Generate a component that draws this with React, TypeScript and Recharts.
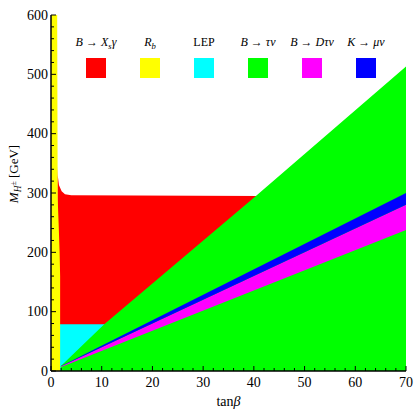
import React from 'react';
import { ComposedChart, Area, XAxis, YAxis, Legend } from 'recharts';

// ---------- data ----------
const X_TICKS = [0, 2, 4, 6, 8, 10, 12, 14, 16, 18, 20, 22, 24, 26, 28, 30, 32, 34, 36, 38, 40, 42, 44, 46, 48, 50, 52, 54, 56, 58, 60, 62, 64, 66, 68, 70];
const X_LABELED = [0, 10, 20, 30, 40, 50, 60, 70];
const Y_TICKS = [0, 20, 40, 60, 80, 100, 120, 140, 160, 180, 200, 220, 240, 260, 280, 300, 320, 340, 360, 380, 400, 420, 440, 460, 480, 500, 520, 540, 560, 580, 600];
const Y_LABELED = [0, 100, 200, 300, 400, 500, 600];

// B -> X_s gamma (red): excluded below ~295 GeV
const bsgamma = [
  { x: 1.25, r: [0, 345] },
  { x: 1.32, r: [0, 330] },
  { x: 1.58, r: [0, 313] },
  { x: 2.1, r: [0, 303] },
  { x: 2.76, r: [0, 298] },
  { x: 4, r: [0, 296] },
  { x: 41, r: [0, 295] },
];
// R_b (yellow): small tan beta
const rb = [
  { x: 0, r: [0, 600] },
  { x: 1.22, r: [0, 600] },
  { x: 1.32, r: [0, 290] },
  { x: 1.5, r: [0, 250] },
  { x: 1.7, r: [0, 200] },
  { x: 1.8, r: [0, 160] },
  { x: 1.8, r: [0, 0] },
];
// LEP (cyan)
const lep = [
  { x: 1.5, r: [0, 79] },
  { x: 11, r: [0, 79] },
];
// B -> tau nu (green)
const btaunu = [
  { x: 1.9, r: [0, 8] },
  { x: 10.5, r: [0, 79] },
  { x: 40.4, r: [0, 295] },
  { x: 70, r: [0, 513] },
];
// B -> D tau nu (magenta)
const bdtaunu = [
  { x: 2, r: [6.8, 8.0] },
  { x: 70, r: [237.6, 280] },
];
// K -> mu nu (blue)
const kmunu = [
  { x: 2, r: [8.0, 8.6] },
  { x: 70, r: [280, 300] },
];

type Seg = { t: string; i?: boolean; sub?: boolean };
const LEGEND_ITEMS: { color: string; label: Seg[] }[] = [
  { color: '#FF0000', label: [{ t: 'B', i: true }, { t: ' \u2192 ' }, { t: 'X', i: true }, { t: 's', i: true, sub: true }, { t: '\u03B3', i: true }] },
  { color: '#FFFF00', label: [{ t: 'R', i: true }, { t: 'b', i: true, sub: true }] },
  { color: '#00FFFF', label: [{ t: 'LEP' }] },
  { color: '#00FF00', label: [{ t: 'B', i: true }, { t: ' \u2192 ' }, { t: '\u03C4\u03BD', i: true }] },
  { color: '#FF00FF', label: [{ t: 'B', i: true }, { t: ' \u2192 ' }, { t: 'D\u03C4\u03BD', i: true }] },
  { color: '#0000FF', label: [{ t: 'K', i: true }, { t: ' \u2192 ' }, { t: '\u03BC\u03BD', i: true }] },
];

const FONT = "'Times New Roman', 'Liberation Serif', Tinos, Times, serif";
const MAJOR = 5;
const MINOR = 3;
const FRAME = 1.5;

const renderSegs = (segs: Seg[]) => {
  const out: React.ReactNode[] = [];
  let shifted = false;
  segs.forEach((s, k) => {
    let dy = 0;
    if (s.sub && !shifted) { dy = 3; shifted = true; }
    else if (!s.sub && shifted) { dy = -3; shifted = false; }
    out.push(
      <tspan key={k} dy={dy || undefined} fontStyle={s.i ? 'italic' : 'normal'} fontSize={s.sub ? '0.72em' : undefined}>
        {s.t}
      </tspan>
    );
  });
  return out;
};

const BottomTick = (p: any) => {
  const major = X_LABELED.includes(p.payload.value);
  return (
    <g>
      <line x1={p.x} x2={p.x} y1={p.y} y2={p.y - (major ? MAJOR : MINOR)} stroke="#000" strokeWidth={1} />
      {major && (
        <text x={p.x} y={p.y + 16} textAnchor="middle" style={{ fontFamily: FONT }} fontSize={14} fill="#000">
          {p.payload.value}
        </text>
      )}
    </g>
  );
};
const TopTick = (p: any) => {
  const major = X_LABELED.includes(p.payload.value);
  return <line x1={p.x} x2={p.x} y1={p.y} y2={p.y + (major ? MAJOR : MINOR)} stroke="#000" strokeWidth={1} />;
};
const LeftTick = (p: any) => {
  const major = Y_LABELED.includes(p.payload.value);
  return (
    <g>
      <line x1={p.x} x2={p.x + (major ? MAJOR : MINOR)} y1={p.y} y2={p.y} stroke="#000" strokeWidth={1} />
      {major && (
        <text x={p.x - 3} y={p.y + 4.5} textAnchor="end" style={{ fontFamily: FONT }} fontSize={14} fill="#000">
          {p.payload.value}
        </text>
      )}
    </g>
  );
};
const RightTick = (p: any) => {
  const major = Y_LABELED.includes(p.payload.value);
  return <line x1={p.x} x2={p.x - (major ? MAJOR : MINOR)} y1={p.y} y2={p.y} stroke="#000" strokeWidth={1} />;
};

const LegendContent = () => (
  <svg width={415} height={100} style={{ display: 'block', overflow: 'visible' }}>
    {LEGEND_ITEMS.map((it, k) => {
      const cx = 96 + k * 54;
      return (
        <g key={k}>
          <text x={cx} y={46} textAnchor="middle" style={{ fontFamily: FONT }} fontSize={12} fill="#000">
            {renderSegs(it.label)}
          </text>
          <rect x={cx - 10} y={58} width={20} height={20} fill={it.color} />
        </g>
      );
    })}
  </svg>
);

const XTitle = (props: any) => {
  const vb = props.viewBox || { x: 51, y: 371, width: 355, height: 20 };
  return (
    <text x={vb.x + vb.width / 2} y={vb.y + 35} textAnchor="middle" style={{ fontFamily: FONT }} fontSize={14} fill="#000">
      <tspan>tan</tspan>
      <tspan fontStyle="italic">{'\u03B2'}</tspan>
    </text>
  );
};
const YTitle = (props: any) => {
  const vb = props.viewBox || { x: 11, y: 15, width: 40, height: 356 };
  const x = vb.x + 7;
  const y = vb.y + vb.height / 2 - 19;
  return (
    <text transform={`translate(${x},${y}) rotate(-90)`} textAnchor="middle" style={{ fontFamily: FONT }} fontSize={13} fill="#000">
      <tspan fontStyle="italic">M</tspan>
      <tspan fontStyle="italic" fontSize="0.72em" dy={3}>H</tspan>
      <tspan fontSize="0.6em" dy={-5}>{'\u00B1'}</tspan>
      <tspan dy={2}>{' [GeV]'}</tspan>
    </text>
  );
};

export default function App() {
  return (
    <div style={{ position: 'absolute', left: 0, top: 0, width: 415, height: 415, background: '#fff', fontFamily: FONT }}>
      <ComposedChart width={415} height={415} margin={{ top: 15, right: 9, bottom: 24, left: 11 }}>
        <XAxis
          type="number"
          dataKey="x"
          domain={[0, 70]}
          allowDataOverflow
          ticks={X_TICKS}
          interval={0}
          height={20}
          tickSize={0}
          tickMargin={0}
          tickLine={false}
          axisLine={{ stroke: '#000', strokeWidth: FRAME }}
          tick={(p: any) => <BottomTick {...p} />}
          label={(p: any) => <XTitle {...p} />}
        />
        <XAxis
          xAxisId="top"
          orientation="top"
          type="number"
          dataKey="x"
          domain={[0, 70]}
          allowDataOverflow
          ticks={X_TICKS}
          interval={0}
          height={0}
          tickSize={0}
          tickMargin={0}
          tickLine={false}
          axisLine={{ stroke: '#000', strokeWidth: FRAME }}
          tick={(p: any) => <TopTick {...p} />}
        />
        <YAxis
          type="number"
          domain={[0, 600]}
          allowDataOverflow
          ticks={Y_TICKS}
          interval={0}
          width={40}
          tickSize={0}
          tickMargin={0}
          tickLine={false}
          axisLine={{ stroke: '#000', strokeWidth: FRAME }}
          tick={(p: any) => <LeftTick {...p} />}
          label={(p: any) => <YTitle {...p} />}
        />
        <YAxis
          yAxisId="right"
          orientation="right"
          type="number"
          domain={[0, 600]}
          allowDataOverflow
          ticks={Y_TICKS}
          interval={0}
          width={0}
          tickSize={0}
          tickMargin={0}
          tickLine={false}
          axisLine={{ stroke: '#000', strokeWidth: FRAME }}
          tick={(p: any) => <RightTick {...p} />}
        />
        <Area data={bsgamma} dataKey="r" type="linear" fill="#FF0000" fillOpacity={1} stroke="none" isAnimationActive={false} name="B→Xsγ" />
        <Area data={lep} dataKey="r" type="linear" fill="#00FFFF" fillOpacity={1} stroke="none" isAnimationActive={false} name="LEP" />
        <Area data={btaunu} dataKey="r" type="linear" fill="#00FF00" fillOpacity={1} stroke="none" isAnimationActive={false} name="B→τν" />
        <Area data={bdtaunu} dataKey="r" type="linear" fill="#FF00FF" fillOpacity={1} stroke="none" isAnimationActive={false} name="B→Dτν" />
        <Area data={kmunu} dataKey="r" type="linear" fill="#0000FF" fillOpacity={1} stroke="none" isAnimationActive={false} name="K→μν" />
        <Area data={rb} dataKey="r" type="linear" fill="#FFFF00" fillOpacity={1} stroke="none" isAnimationActive={false} name="Rb" />
        <Legend
          verticalAlign="middle"
          align="center"
          layout="horizontal"
          wrapperStyle={{ left: 0, top: 0, width: 415, height: 100, pointerEvents: 'none' }}
          content={() => <LegendContent />}
        />
      </ComposedChart>
    </div>
  );
}
